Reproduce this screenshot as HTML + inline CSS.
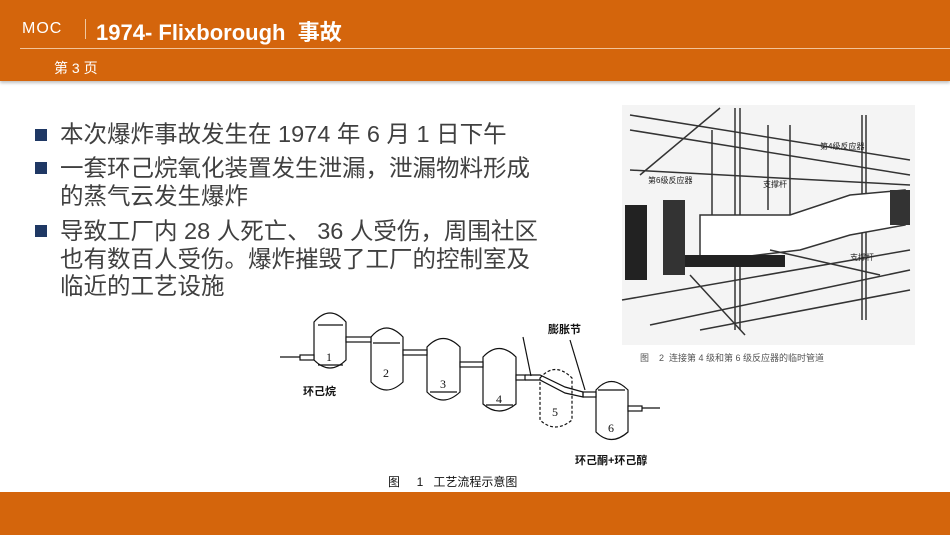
<!DOCTYPE html>
<html><head><meta charset="utf-8"><style>
body{margin:0;width:950px;height:535px;position:relative;background:#fff;overflow:hidden;font-family:"Liberation Sans","Noto Sans CJK SC",sans-serif}
.hdr{position:absolute;left:0;top:0;width:950px;height:81px;background:#D4650C;box-shadow:0 2px 3px rgba(0,0,0,.25)}
.ftr{position:absolute;left:0;top:492px;width:950px;height:43px;background:#D4650C}
.t{position:absolute;color:#fff;white-space:nowrap}
.b{position:absolute;left:60px;font-size:23.5px;color:#404040;line-height:27.5px;white-space:nowrap}
.sq{position:absolute;left:35px;width:12px;height:12px;background:#1F3864}
</style></head><body>
<div class="hdr"></div>
<div class="t" style="left:22px;top:20px;font-size:16px;letter-spacing:1px">MOC</div>
<div style="position:absolute;left:85px;top:19px;width:1px;height:20px;background:#f0c8a0"></div>
<div class="t" style="left:96px;top:15px;font-size:22px;font-weight:bold">1974- Flixborough&nbsp; 事故</div>
<div style="position:absolute;left:20px;top:48px;width:930px;height:1px;background:#f3c49a"></div>
<div class="t" style="left:54px;top:58px;font-size:14px">第 3 页</div>

<div class="sq" style="top:129px"></div><div class="b" style="top:121px">本次爆炸事故发生在 1974 年 6 月 1 日下午</div>
<div class="sq" style="top:162px"></div><div class="b" style="top:155px">一套环己烷氧化装置发生泄漏，泄漏物料形成<br>的蒸气云发生爆炸</div>
<div class="sq" style="top:225px"></div><div class="b" style="top:218px">导致工厂内 28 人死亡、 36 人受伤，周围社区<br>也有数百人受伤。爆炸摧毁了工厂的控制室及<br>临近的工艺设施</div>

<svg style="position:absolute;left:0;top:0" width="950" height="535">
<!-- photo -->
<rect x="622" y="105" width="293" height="240" fill="#f4f4f4"/>
<g stroke="#333" stroke-width="1.5" fill="none">
<line x1="630" y1="115" x2="910" y2="160"/><line x1="630" y1="130" x2="910" y2="175"/>
<line x1="630" y1="170" x2="910" y2="185"/><line x1="640" y1="175" x2="720" y2="108"/>
<line x1="735" y1="108" x2="735" y2="330"/><line x1="740" y1="108" x2="740" y2="330"/>
<line x1="862" y1="115" x2="862" y2="320"/><line x1="866" y1="115" x2="866" y2="320"/>
<line x1="712" y1="130" x2="712" y2="215"/><line x1="768" y1="125" x2="768" y2="210"/>
<line x1="790" y1="125" x2="790" y2="215"/>
<path d="M700 215 L790 215 L850 195 L905 190 L905 225 L850 235 L800 250 L700 262 Z" fill="#fff"/>
<line x1="690" y1="275" x2="745" y2="335"/><line x1="770" y1="250" x2="880" y2="275"/>
<line x1="622" y1="300" x2="910" y2="250"/><line x1="650" y1="325" x2="910" y2="270"/>
<line x1="700" y1="330" x2="910" y2="290"/>
</g>
<rect x="625" y="205" width="22" height="75" fill="#222"/>
<rect x="663" y="200" width="22" height="75" fill="#333"/>
<rect x="685" y="255" width="100" height="12" fill="#222"/>
<rect x="890" y="190" width="20" height="35" fill="#333"/>
<g font-size="8" fill="#222"><text x="820" y="149">第4级反应器</text><text x="648" y="183">第6级反应器</text>
<text x="763" y="187">支撑杆</text><text x="850" y="260">支撑杆</text></g>
<text x="640" y="361" font-size="9" fill="#555">图&#160;&#160;&#160;&#160;2&#160;&#160;连接第 4 级和第 6 级反应器的临时管道</text>

<!-- process flow -->
<g stroke="#111" stroke-width="1.2" fill="#fff">
<path d="M314 322 Q330 304 346 322 L346 360 Q330 376 314 360 Z"/>
<path d="M371 337 Q386 319 403 337 L403 382 Q386 398 371 382 Z"/>
<path d="M427 347 Q443 330 460 347 L460 392 Q443 408 427 392 Z"/>
<path d="M483 357 Q499 340 516 357 L516 404 Q499 418 483 404 Z"/>
<path d="M540 378 Q555 361 572 378 L572 420 Q555 434 540 420 Z" stroke-dasharray="3,2"/>
<path d="M596 390 Q611 373 628 390 L628 432 Q611 447 596 432 Z"/>
<rect x="346" y="337" width="25" height="5"/><rect x="403" y="350" width="24" height="5"/>
<rect x="460" y="362" width="23" height="5"/><rect x="516" y="375" width="9" height="5"/>
<rect x="583" y="392" width="13" height="5"/><rect x="628" y="406" width="14" height="5"/>
<rect x="300" y="355" width="14" height="5"/>
<path d="M525 375 L540 375 L565 387 L583 392 L583 397 L565 393 L540 380 L525 380" fill="none"/>
<line x1="280" y1="357" x2="300" y2="357"/><line x1="642" y1="408" x2="660" y2="408"/>
<line x1="318" y1="325" x2="343" y2="325"/><line x1="318" y1="365" x2="343" y2="365"/>
<line x1="373" y1="343" x2="400" y2="343"/><line x1="430" y1="392" x2="457" y2="392"/>
<line x1="486" y1="405" x2="513" y2="405"/><line x1="598" y1="390" x2="625" y2="390"/>
<line x1="523" y1="337" x2="531" y2="376"/><line x1="570" y1="340" x2="585" y2="390"/>
</g>
<g font-family="Liberation Serif" font-size="12" fill="#111"><text x="326" y="361">1</text><text x="383" y="377">2</text><text x="440" y="388">3</text><text x="496" y="403">4</text><text x="552" y="416">5</text><text x="608" y="432">6</text></g>
<g font-size="11" font-weight="bold" fill="#111"><text x="303" y="395">环己烷</text><text x="548" y="333">膨胀节</text><text x="575" y="464">环己酮+环己醇</text></g>
<text x="388" y="486" font-size="12" fill="#111">图&#160;&#160;&#160;&#160;&#160;1&#160;&#160;&#160;工艺流程示意图</text>
</svg>
<div class="ftr"></div>
</body></html>
